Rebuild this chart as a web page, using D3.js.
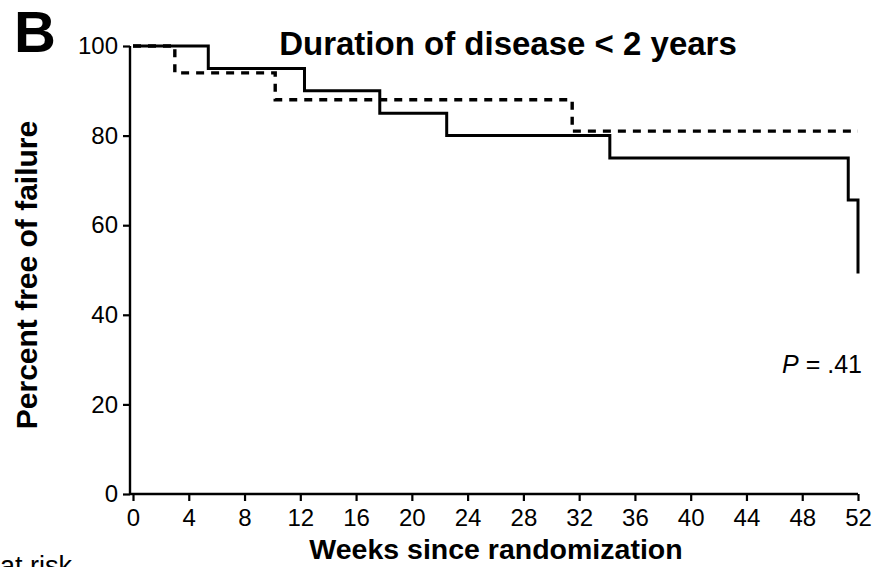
<!DOCTYPE html>
<html>
<head>
<meta charset="utf-8">
<script src="https://cdn.jsdelivr.net/npm/d3@7"></script>
<style>
  body { margin: 0; background: #fff; }
  svg { display: block; font-family: "Liberation Sans", Arial, Helvetica, sans-serif; }
</style>
</head>
<body>
<div id="chart-area"></div>
<script>
// data (weeks, percent free of failure)
var solidWeeks = [0, 5.4, 12.3, 17.7, 22.5, 34.2, 51.3, 52.0];
var solidPct   = [100, 95, 90, 85, 80, 75, 65.6, 49.2];
var dashWeeks  = [0, 3.0, 10.2, 31.5, 52];
var dashPct    = [100, 94, 88, 81, 81];
var xTicks = [0, 4, 8, 12, 16, 20, 24, 28, 32, 36, 40, 44, 48, 52];
var yTicks = [0, 20, 40, 60, 80, 100];

var width = 886, height = 567;

var svg = d3.select("#chart-area")
  .append("svg")
  .attr("width", width)
  .attr("height", height);

var xScale = d3.scaleLinear().domain([0, 52]).range([133, 858]);
var yScale = d3.scaleLinear().domain([0, 100]).range([494, 46]);

// axes
var xAxis = d3.axisBottom(xScale).tickValues(xTicks).tickSize(7).tickPadding(8);
var yAxis = d3.axisLeft(yScale).tickValues(yTicks).tickSize(7).tickPadding(5);

var gx = svg.append("g")
  .attr("class", "x-axis")
  .attr("transform", "translate(0," + yScale(0) + ")")
  .call(xAxis);

var gy = svg.append("g")
  .attr("class", "y-axis")
  .attr("transform", "translate(130,0)")
  .call(yAxis);

[gx, gy].forEach(function(g) {
  g.select(".domain").remove();
  g.selectAll(".tick line").attr("stroke", "#000").attr("stroke-width", 2.2);
  g.selectAll(".tick text")
    .attr("fill", "#000")
    .style("font-size", "24px")
    .style("font-family", "'Liberation Sans', Arial, sans-serif");
});

// axis lines
svg.append("line")
  .attr("x1", 130).attr("x2", xScale(52))
  .attr("y1", yScale(0)).attr("y2", yScale(0))
  .attr("stroke", "#000").attr("stroke-width", 2.4);
svg.append("line")
  .attr("x1", 130).attr("x2", 130)
  .attr("y1", yScale(0) + 1).attr("y2", yScale(100))
  .attr("stroke", "#000").attr("stroke-width", 2.4);

// curves
var line = d3.line()
  .x(function(d) { return xScale(d[0]); })
  .y(function(d) { return yScale(d[1]); })
  .curve(d3.curveStepAfter);

var solidData = solidWeeks.map(function(w, i) { return [w, solidPct[i]]; });
var dashData = dashWeeks.map(function(w, i) { return [w, dashPct[i]]; });

svg.append("path")
  .datum(solidData)
  .attr("d", line)
  .attr("fill", "none")
  .attr("stroke", "#000")
  .attr("stroke-width", 3);

svg.append("path")
  .datum(dashData)
  .attr("d", line)
  .attr("fill", "none")
  .attr("stroke", "#000")
  .attr("stroke-width", 3.4)
  .attr("stroke-dasharray", "8,7");

// labels
svg.append("text")
  .attr("x", 14).attr("y", 52)
  .style("font-size", "58px").style("font-weight", "bold")
  .text("B");

svg.append("text")
  .attr("x", 508).attr("y", 55)
  .attr("text-anchor", "middle")
  .style("font-size", "33px").style("font-weight", "bold")
  .text("Duration of disease < 2 years");

svg.append("text")
  .attr("transform", "translate(37,275) rotate(-90)")
  .attr("text-anchor", "middle")
  .style("font-size", "30px").style("font-weight", "bold")
  .text("Percent free of failure");

svg.append("text")
  .attr("x", 496).attr("y", 559)
  .attr("text-anchor", "middle")
  .style("font-size", "28.5px").style("font-weight", "bold")
  .text("Weeks since randomization");

var pText = svg.append("text")
  .attr("x", 862).attr("y", 373)
  .attr("text-anchor", "end")
  .style("font-size", "25px");
pText.append("tspan").style("font-style", "italic").text("P");
pText.append("tspan").text(" = .41");

svg.append("text")
  .attr("x", 0).attr("y", 575)
  .style("font-size", "27px")
  .text("at risk");
</script>
</body>
</html>
